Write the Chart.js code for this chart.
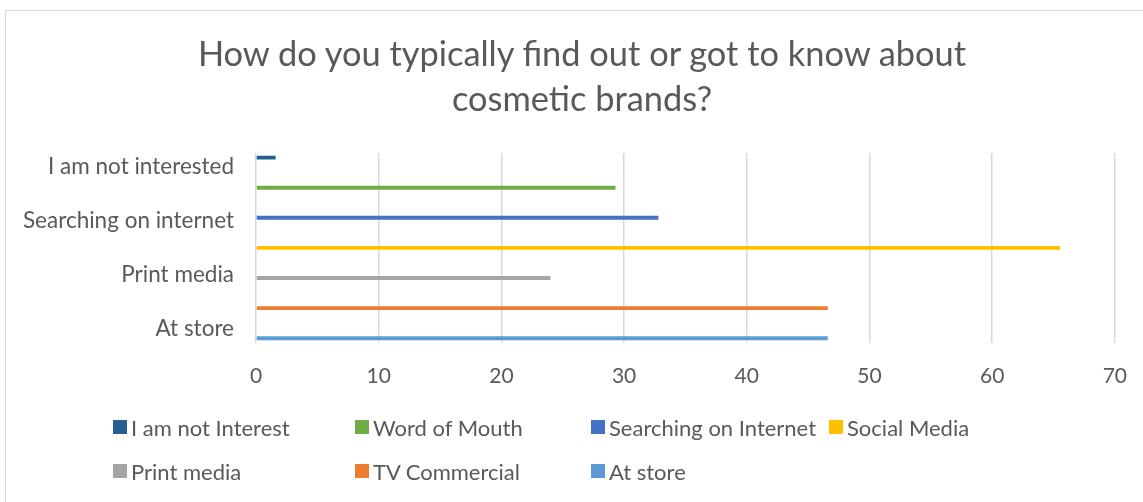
<html><head><meta charset="UTF-8">
<title>Cosmetic brands survey</title>
<style>
    body, html {
        margin: 0;
        padding: 0;
        background: #fff;
        font-family: 'Lato', sans-serif;
    }
    .wrap {
        position: relative;
        width: 1143px;
        height: 502px;
        overflow: hidden;
    }
    .frame {
        position: absolute;
        left: 5px;
        top: 10px;
        width: 1150px;
        height: 500px;
        border: 1.5px solid #d9d9d9;
        box-sizing: border-box;
    }
    canvas {
        position: absolute;
        left: 0;
        top: 0;
    }
    .title {
        position: absolute;
        left: 82px;
        width: 1000px;
        top: 30px;
        text-align: center;
        font-size: 34.4px;
        line-height: 45px;
        color: #595959;
    }
    .legend {
        position: absolute;
        left: 113px;
        top: 413px;
        display: grid;
        grid-template-columns: 242px 236px 238px 240px;
        row-gap: 16px;
        font-size: 22px;
        color: #595959;
    }
    .legend span {
        display: flex;
        align-items: center;
        height: 28px;
        white-space: nowrap;
    }
    .legend i {
        display: inline-block;
        width: 14px;
        height: 14px;
        margin-right: 4px;
    }
</style>
<script src="https://cdn.jsdelivr.net/npm/chart.js"></script>
</head>
<body>
<div class="wrap">
    <div class="frame"></div>
    <canvas id="chart" width="1143" height="502"></canvas>
    <div class="title" id="title"></div>
    <div class="legend" id="legend"></div>
</div>
<script>
    const titleLines = ['How do you typically find out or got to know about', 'cosmetic brands?'];
    // categories on the y axis (top to bottom)
    const categories = ['I am not interested', 'Word of mouth', 'Searching on internet', 'Social media',
                        'Print media', 'TV commercial', 'At store'];
    // legend names of the series, one per category
    const seriesNames = ['I am not Interest', 'Word of Mouth', 'Searching on Internet', 'Social Media',
                         'Print media', 'TV Commercial', 'At store'];
    const values = [1.6, 29.3, 32.8, 65.55, 24.0, 46.6, 46.6];
    const colors = ['#255E91', '#70AD47', '#4472C4', '#FFC000', '#A5A5A5', '#ED7D31', '#5B9BD5'];
    const xTicks = [0, 10, 20, 30, 40, 50, 60, 70];

    const textColor = '#595959';

    // each series only has a value in its own category
    const datasets = seriesNames.map((name, i) => ({
        label: name,
        data: categories.map((c, j) => j === i ? values[i] : null),
        backgroundColor: colors[i],
        borderWidth: 0,
        categoryPercentage: 0.77,
        barPercentage: 1.3
    }));

    const chart = new Chart(document.getElementById('chart'), {
        type: 'bar',
        data: { labels: categories, datasets: datasets },
        options: {
            responsive: false,
            animation: false,
            indexAxis: 'y',
            layout: { padding: { left: 10, right: 21, top: 153, bottom: 97 } },
            plugins: {
                legend: { display: false },
                tooltip: { enabled: false }
            },
            scales: {
                x: {
                    min: xTicks[0],
                    max: xTicks[xTicks.length - 1],
                    afterBuildTicks: s => { s.ticks = xTicks.map(v => ({ value: v })); },
                    grid: { color: '#d9d9d9', lineWidth: 1.5, drawTicks: true, tickLength: 5, tickColor: 'rgba(0,0,0,0)' },
                    border: { display: false },
                    ticks: { color: textColor, font: { family: 'Lato', size: 21 }, padding: 16 }
                },
                y: {
                    afterFit: s => { s.width = 246; },
                    grid: { display: false, drawTicks: false },
                    border: { display: false },
                    ticks: {
                        autoSkip: false,
                        color: textColor,
                        padding: 22,
                        font: { family: 'Lato', size: 22.5 },
                        callback: (v, i) => i % 2 === 0 ? categories[i] : ''
                    }
                }
            }
        }
    });

    document.getElementById('title').innerHTML = titleLines.join('<br>');

    // legend laid out in columns like the original
    const legend = document.getElementById('legend');
    chart.data.datasets.forEach(ds => {
        const item = document.createElement('span');
        item.innerHTML = '<i style="background:' + ds.backgroundColor + '"></i>' + ds.label;
        legend.appendChild(item);
    });
</script>
</body>
</html>
